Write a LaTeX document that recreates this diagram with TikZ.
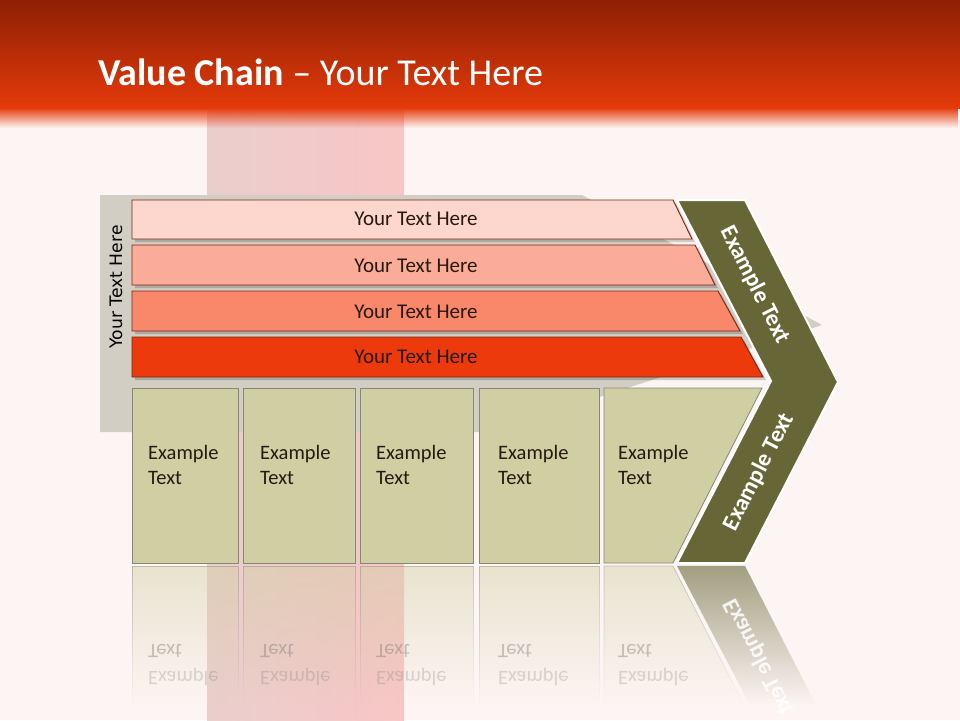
\documentclass[tikz,border=0pt]{standalone}
\usepackage{fontspec}
\setmainfont{Carlito}
\newfontfamily\dejavu{DejaVu Sans}
\usetikzlibrary{fadings}
\definecolor{bgc}{RGB}{253,245,243}
\definecolor{hdtop}{RGB}{142,32,3}
\definecolor{hdbot}{RGB}{228,58,10}
\definecolor{panelc}{RGB}{210,206,196}
\definecolor{barA}{RGB}{253,214,206}
\definecolor{barB}{RGB}{251,172,152}
\definecolor{barC}{RGB}{249,135,105}
\definecolor{barD}{RGB}{236,58,12}
\definecolor{barline}{RGB}{120,40,20}
\definecolor{boxc}{RGB}{207,207,163}
\definecolor{boxline}{RGB}{135,135,120}
\definecolor{olive}{RGB}{102,102,54}
\definecolor{txtc}{RGB}{40,25,15}
\definecolor{bandL}{RGB}{232,200,198}
\definecolor{bandR}{RGB}{247,190,190}
\tikzfading[name=fadedown, top color=transparent!0, bottom color=transparent!100]
\tikzfading[name=reflfade, top color=transparent!55, bottom color=transparent!100]
\tikzfading[name=reflfadeB, top color=transparent!40, bottom color=transparent!100]
\tikzset{
  barbox/.style={draw=barline, line width=0.9pt},
  barshadow/.style={fill=black, opacity=0.18},
  boxshape/.style={fill=boxc, draw=boxline, line width=0.8pt},
  refbox/.style={fill=boxc, draw=boxline, line width=0.8pt, path fading=reflfade},
  bartext/.style={text=txtc, font=\fontsize{21}{25}\selectfont, inner sep=0pt},
  boxtext/.style={text=txtc, font=\fontsize{20.5}{25.5}\selectfont, align=left, anchor=west, inner sep=0pt},
  reftext/.style={text=black!55, font=\fontsize{20.5}{25.5}\selectfont, anchor=west, inner sep=0pt},
  chevtext/.style={text=white, font=\bfseries\fontsize{23.5}{28}\selectfont, inner sep=0pt},
}
\newcommand{\flipv}[1]{\scalebox{1}[-1]{#1}}
\begin{document}
\begin{tikzpicture}[x=1pt,y=-1pt]
\fill[bgc] (0,0) rectangle (960,720);
\useasboundingbox (0,0) rectangle (960,720);
% header
\shade[top color=hdtop, bottom color=hdbot] (0,0) rectangle (960,108);
% pink band
\shade[left color=bandL, right color=bandR, opacity=0.85] (207,108) rectangle (404,720);
\fill[hdbot, path fading=fadedown] (0,107.5) rectangle (960,128);
% reflections
\foreach \a/\b in {132/238, 243/355, 360/473, 479/599}
  \path[refbox] (\a,566) rectangle (\b,705);
\path[refbox] (604,566) -- (673,566) -- (744,705) -- (604,705) -- cycle;
\path[fill=olive, path fading=reflfadeB] (677,566) -- (745,566) -- (816,705) -- (750,705) -- cycle;
\foreach \x/\n in {148/1, 260/2, 376/3, 498/4, 618/5} {
  \node[reftext, opacity=0.4] (rt\n) at (\x,651) {\flipv{Text}};
  \node[reftext, opacity=0.25] (re\n) at (\x,676.5) {\flipv{Example}};
}
\node[chevtext, rotate=-63, opacity=0.85] (rc) at (759,657) {\flipv{Example Text}};
% gray panel
\fill[panelc] (100,195) -- (582,195) -- (822,325) -- (590,400) -- (560,432) -- (100,432) -- cycle;
\node[rotate=90, text=black, font=\dejavu\fontsize{17.2}{20}\selectfont, inner sep=0pt] (side) at (116,287) {Your Text Here};
% bars
\fill[barshadow] (135,203) -- (676,203) -- (695,242) -- (135,242) -- cycle;
\fill[barshadow] (135,248) -- (698,248) -- (718,288) -- (135,288) -- cycle;
\fill[barshadow] (135,294) -- (721,294) -- (743,334) -- (135,334) -- cycle;
\fill[barshadow] (135,340) -- (744,340) -- (766,380) -- (135,380) -- cycle;
\path[barbox, fill=barA] (132,200) -- (673,200) -- (692,239) -- (132,239) -- cycle;
\path[barbox, fill=barB] (132,245) -- (695,245) -- (715,285) -- (132,285) -- cycle;
\path[barbox, fill=barC] (132,291) -- (718,291) -- (740,331) -- (132,331) -- cycle;
\path[barbox, fill=barD] (132,337) -- (741,337) -- (763,377) -- (132,377) -- cycle;
\node[bartext] (b1) at (416,219) {Your Text Here};
\node[bartext] (b2) at (416,266) {Your Text Here};
\node[bartext] (b3) at (416,311.5) {Your Text Here};
\node[bartext] (b4) at (416,357) {Your Text Here};
% boxes
\foreach \a/\b in {132/238, 243/355, 360/473, 479/599}
  \path[boxshape] (\a,388) rectangle (\b,563);
\path[boxshape] (604,388) -- (762,388) -- (673,563) -- (604,563) -- cycle;
\node[boxtext] (t1) at (148,465) {Example\\Text};
\node[boxtext] (t2) at (260,465) {Example\\Text};
\node[boxtext] (t3) at (376,465) {Example\\Text};
\node[boxtext] (t4) at (498,465) {Example\\Text};
\node[boxtext] (t5) at (618,465) {Example\\Text};
% chevron
\path[fill=olive, draw=white, line width=2pt, line join=miter] (677,200) -- (745,200) -- (838,382) -- (745,563) -- (677,563) -- (771,381) -- cycle;
\node[chevtext, rotate=-63] (c1) at (755,285) {Example Text};
\node[chevtext, rotate=63] (c2) at (759,472) {Example Text};
% title
\node[anchor=base west, text=white, font=\fontsize{38}{42}\selectfont, inner sep=0pt] (title) at (98,85) {\textbf{Value Chain} – Your Text Here};
\end{tikzpicture}
\end{document}
